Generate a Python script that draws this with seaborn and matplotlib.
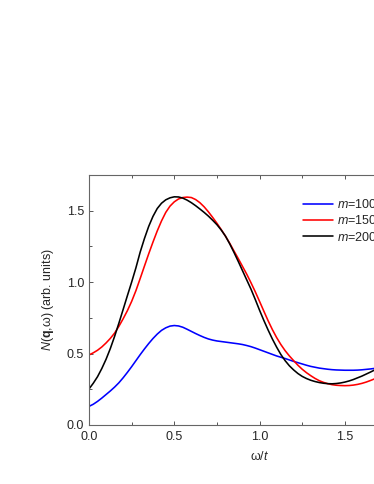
import numpy as np
import pandas as pd
import matplotlib
matplotlib.use("Agg")
import matplotlib.pyplot as plt
from matplotlib.ticker import MultipleLocator
import seaborn as sns

# omega/t grid (step 0.025) and N(q,w) for the three m values
omega = [round(0.025 * i, 3) for i in range(71)]

n_m100 = [0.130, 0.145, 0.165, 0.188, 0.213, 0.238, 0.265, 0.295, 0.330, 0.368,
          0.408, 0.450, 0.492, 0.532, 0.570, 0.605, 0.636, 0.662, 0.680, 0.692,
          0.696, 0.693, 0.684, 0.670, 0.655, 0.640, 0.626, 0.613, 0.602, 0.594,
          0.588, 0.584, 0.580, 0.576, 0.572, 0.568, 0.563, 0.556, 0.548, 0.538,
          0.527, 0.516, 0.505, 0.494, 0.483, 0.474, 0.465, 0.455, 0.445, 0.436,
          0.427, 0.418, 0.410, 0.404, 0.398, 0.394, 0.390, 0.387, 0.385, 0.384,
          0.383, 0.383, 0.383, 0.384, 0.386, 0.389, 0.392, 0.396, 0.400, 0.405,
          0.410]

n_m150 = [0.490, 0.505, 0.523, 0.546, 0.574, 0.606, 0.643, 0.690, 0.743, 0.800,
          0.865, 0.940, 1.025, 1.112, 1.198, 1.280, 1.358, 1.428, 1.488, 1.532,
          1.562, 1.582, 1.592, 1.595, 1.592, 1.578, 1.556, 1.527, 1.492, 1.453,
          1.412, 1.368, 1.322, 1.272, 1.218, 1.165, 1.110, 1.055, 0.995, 0.932,
          0.865, 0.797, 0.730, 0.668, 0.612, 0.563, 0.520, 0.483, 0.450, 0.418,
          0.390, 0.366, 0.345, 0.326, 0.310, 0.298, 0.289, 0.282, 0.278, 0.276,
          0.275, 0.276, 0.279, 0.284, 0.291, 0.300, 0.311, 0.323, 0.335, 0.348,
          0.360]

n_m200 = [0.252, 0.292, 0.338, 0.395, 0.460, 0.535, 0.620, 0.712, 0.808, 0.905,
          1.000, 1.100, 1.210, 1.305, 1.390, 1.460, 1.515, 1.552, 1.576, 1.590,
          1.597, 1.596, 1.588, 1.574, 1.556, 1.535, 1.512, 1.488, 1.462, 1.433,
          1.402, 1.365, 1.322, 1.268, 1.208, 1.145, 1.080, 1.015, 0.950, 0.878,
          0.803, 0.732, 0.665, 0.602, 0.545, 0.493, 0.450, 0.414, 0.385, 0.360,
          0.340, 0.325, 0.313, 0.304, 0.297, 0.292, 0.289, 0.288, 0.290, 0.294,
          0.300, 0.308, 0.318, 0.330, 0.342, 0.356, 0.370, 0.385, 0.400, 0.415,
          0.430]

series_names = ["m=100", "m=150", "m=200"]
series_labels = [r"$\mathit{m}$=100", r"$\mathit{m}$=150", r"$\mathit{m}$=200"]
series_colors = ["#0000ff", "#ff0000", "#000000"]

xticks = [0.0, 0.5, 1.0, 1.5, 2.0]
xtick_labels = ["0.0", "0.5", "1.0", "1.5", ""]   # 2.0 falls outside the cropped image

df = pd.concat([
    pd.DataFrame({"omega": omega, "N": vals, "serie": name})
    for name, vals in zip(series_names, [n_m100, n_m150, n_m200])
])

sns.set_style("ticks")
plt.rcParams["font.family"] = ["Liberation Sans", "DejaVu Sans"]
plt.rcParams["mathtext.fontset"] = "custom"
plt.rcParams["mathtext.rm"] = "Liberation Sans"
plt.rcParams["mathtext.it"] = "Liberation Sans:italic"
plt.rcParams["mathtext.bf"] = "Liberation Sans:bold"

fs = 9

fig = plt.figure(figsize=(3.74, 4.84), dpi=100)
ax = fig.add_axes([0.238, 0.122, 0.912, 0.5165])

sns.lineplot(data=df, x="omega", y="N", hue="serie", hue_order=series_names,
             palette=series_colors, linewidth=1.15, legend=False, ax=ax)

ax.set_xlim(0, 2.0)
ax.set_ylim(0, 1.75)
ax.set_xticks(xticks)
ax.set_xticklabels(xtick_labels)
ax.xaxis.set_minor_locator(MultipleLocator(0.25))
ax.yaxis.set_major_locator(MultipleLocator(0.5))
ax.yaxis.set_minor_locator(MultipleLocator(0.25))
ax.yaxis.set_major_formatter(plt.FormatStrFormatter("%.1f"))

ax.tick_params(which="both", direction="in", top=True, right=True,
               color="#555555", labelsize=fs)
ax.tick_params(axis="x", pad=4.5)
ax.tick_params(axis="y", pad=3.5)
ax.tick_params(which="major", length=3, width=0.7)
ax.tick_params(which="minor", length=2, width=0.7)
for s in ax.spines.values():
    s.set_color("#666666")
    s.set_linewidth(0.8)

ax.set_xlabel(r"ω/$\mathit{t}$", fontsize=fs, labelpad=5)
ax.set_ylabel(r"$\mathit{N}$($\mathbf{q}$,ω) (arb. units)", fontsize=fs, labelpad=8)

# legend runs off the right edge, as in the original crop
handles = ax.lines[:3]
ax.legend(handles, series_labels, loc="upper left", frameon=False,
          bbox_to_anchor=(303 / 374, 1 - 198 / 484), bbox_transform=fig.transFigure,
          fontsize=fs, borderpad=0, borderaxespad=0, handlelength=2.4,
          handletextpad=0.3, labelspacing=0.26)

fig.savefig("out.png", dpi=100)
